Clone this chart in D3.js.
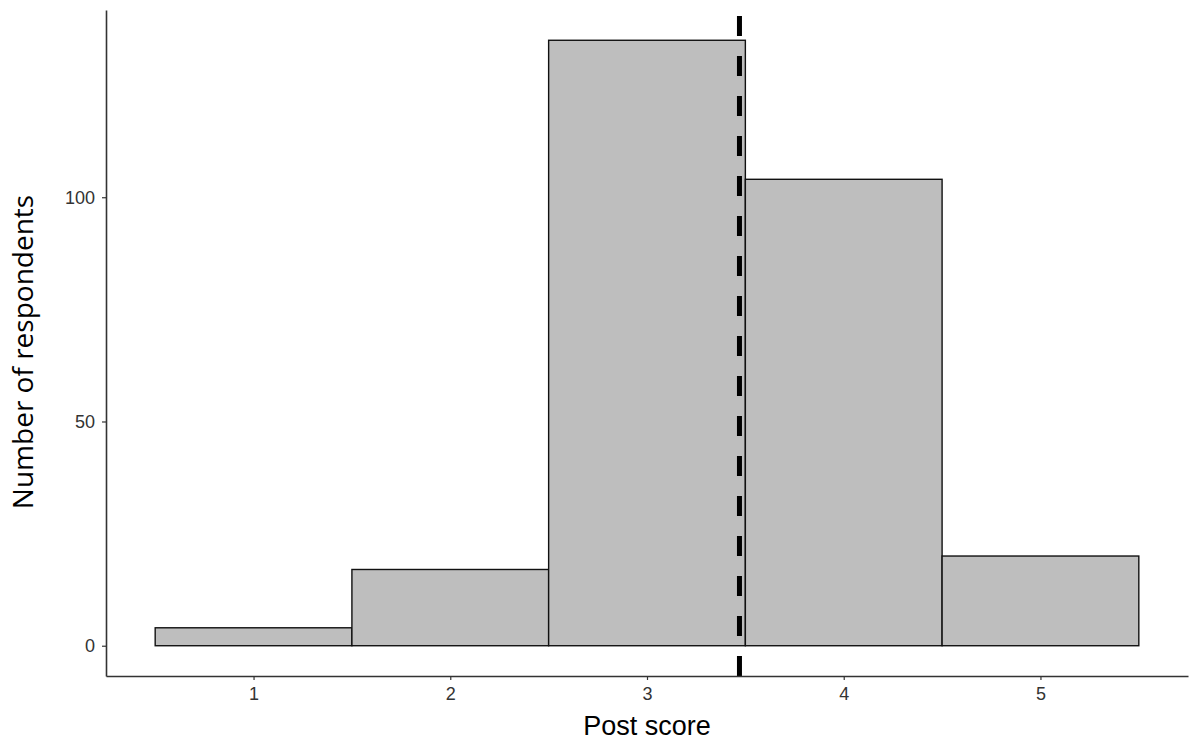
<!DOCTYPE html>
<html>
<head>
<meta charset="utf-8">
<script src="https://cdn.jsdelivr.net/npm/d3@7"></script>
<style>
  body { margin: 0; background: #fff; }
  svg { display: block; }
</style>
</head>
<body>
<svg id="chart"></svg>
<script>
const scores = [1, 2, 3, 4, 5];
const counts = [4, 17, 135, 104, 20];
const meanScore = 3.47;
const yTicks = [0, 50, 100];

const width = 1200;
const height = 750;
const margin = { top: 10, right: 12, bottom: 74, left: 106 };

const svg = d3.select("#chart").attr("width", width).attr("height", height);

const x = d3.scaleLinear()
  .domain([0.25, 5.75])
  .range([margin.left, width - margin.right]);

const y = d3.scaleLinear()
  .domain([-6.75, 141.75])
  .range([height - margin.bottom, margin.top]);

const data = scores.map((s, i) => ({ score: s, count: counts[i] }));

// bars
svg.append("g")
  .selectAll("rect")
  .data(data)
  .enter()
  .append("rect")
  .attr("x", (d) => x(d.score - 0.5))
  .attr("y", (d) => y(d.count))
  .attr("width", (d) => x(d.score + 0.5) - x(d.score - 0.5))
  .attr("height", (d) => y(0) - y(d.count))
  .attr("fill", "#bebebe")
  .attr("stroke", "#111")
  .attr("stroke-width", 1.4);

// mean line, dashes start at the bottom
svg.append("line")
  .attr("x1", x(meanScore))
  .attr("x2", x(meanScore))
  .attr("y1", height - margin.bottom)
  .attr("y2", margin.top)
  .attr("stroke", "#000")
  .attr("stroke-width", 5)
  .attr("stroke-dasharray", "20,20");

// axes
const xAxis = svg.append("g")
  .attr("transform", `translate(0,${height - margin.bottom})`)
  .call(d3.axisBottom(x).tickValues(scores).tickSize(4).tickSizeOuter(0).tickPadding(7).tickFormat(d3.format("d")));

const yAxis = svg.append("g")
  .attr("transform", `translate(${margin.left},0)`)
  .call(d3.axisLeft(y).tickValues(yTicks).tickSize(4).tickSizeOuter(0).tickPadding(7));

[xAxis, yAxis].forEach((a) => {
  a.select(".domain").attr("stroke", "#333").attr("stroke-width", 1.6);
  a.selectAll(".tick line").attr("stroke", "#333").attr("stroke-width", 1.2);
  a.selectAll(".tick text")
    .attr("fill", "#333")
    .style("font-family", "'Liberation Sans', Arial, sans-serif")
    .style("font-size", "18px");
});

// axis titles
svg.append("text")
  .attr("x", x(3))
  .attr("y", 735)
  .attr("text-anchor", "middle")
  .style("font-family", "'Liberation Sans', Arial, sans-serif")
  .style("font-size", "27px")
  .attr("fill", "#000")
  .text("Post score");

svg.append("text")
  .attr("transform", "translate(33,352) rotate(-90)")
  .attr("text-anchor", "middle")
  .style("font-family", "'Open Sans', sans-serif")
  .style("font-size", "28px")
  .attr("fill", "#000")
  .text("Number of respondents");
</script>
</body>
</html>
